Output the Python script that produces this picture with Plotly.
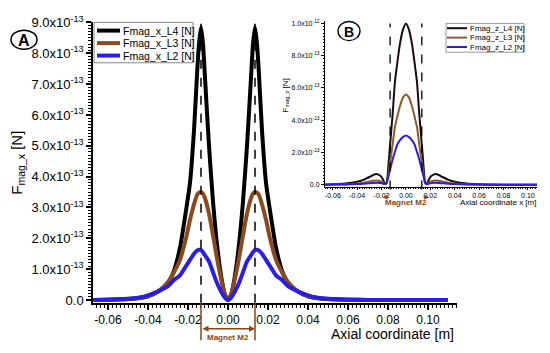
import plotly.graph_objects as go

W, H = 550, 353

# ---------------- data (forces in units of 1e-13 N) ----------------
x_main = [-0.07, -0.06, -0.05, -0.045, -0.04, -0.035, -0.03, -0.027, -0.024, -0.021,
          -0.019, -0.017, -0.0155, -0.0145, -0.0135, -0.0125, -0.0115, -0.0095, -0.0075,
          -0.0055, -0.0035, -0.0015, 0.0,
          0.0015, 0.0035, 0.0055, 0.0075, 0.0095, 0.0115, 0.0125, 0.0135, 0.0145, 0.0155,
          0.017, 0.019, 0.021, 0.024, 0.027, 0.03, 0.035, 0.04, 0.045, 0.05, 0.06, 0.07,
          0.09, 0.11]
fx_L4 = [0.0, 0.01, 0.03, 0.06, 0.12, 0.27, 0.55, 0.95, 1.7, 2.9,
         3.8, 5.5, 7.3, 8.3, 8.85, 8.3, 7.2, 5.0, 3.2,
         1.8, 0.8, 0.15, 0.0,
         0.15, 0.8, 1.8, 3.2, 5.0, 7.2, 8.3, 8.85, 8.3, 7.3,
         5.5, 3.8, 2.9, 1.7, 0.95, 0.55, 0.27, 0.12, 0.06, 0.03, 0.01, 0.0,
         0.0, 0.0]
fx_L3 = [0.0, 0.01, 0.03, 0.06, 0.13, 0.27, 0.58, 0.9, 1.3, 2.0,
         2.6, 3.1, 3.4, 3.48, 3.5, 3.45, 3.3, 2.8, 2.1,
         1.35, 0.7, 0.18, 0.0,
         0.18, 0.7, 1.35, 2.1, 2.8, 3.3, 3.45, 3.5, 3.48, 3.4,
         3.1, 2.6, 2.0, 1.3, 0.9, 0.58, 0.27, 0.13, 0.06, 0.03, 0.01, 0.0,
         0.0, 0.0]
fx_L2 = [0.0, 0.01, 0.04, 0.07, 0.15, 0.28, 0.45, 0.65, 0.8, 1.1,
         1.3, 1.5, 1.6, 1.63, 1.62, 1.55, 1.45, 1.25, 0.9,
         0.55, 0.28, 0.07, 0.0,
         0.07, 0.28, 0.55, 0.9, 1.25, 1.45, 1.55, 1.62, 1.63, 1.6,
         1.5, 1.3, 1.1, 0.8, 0.65, 0.45, 0.28, 0.15, 0.07, 0.04, 0.01, 0.0,
         0.0, 0.0]

x_ins = [-0.07, -0.06, -0.05, -0.04, -0.035, -0.03, -0.027, -0.024, -0.021, -0.019,
         -0.0175, -0.016, -0.0145, -0.013, -0.011, -0.009, -0.007, -0.005, -0.0025, 0.0,
         0.0025, 0.005, 0.007, 0.009, 0.011, 0.013, 0.0145, 0.016, 0.0175, 0.019,
         0.021, 0.024, 0.027, 0.03, 0.035, 0.04, 0.05, 0.06, 0.07, 0.09, 0.11]
fz_L4 = [0.01, 0.03, 0.07, 0.18, 0.3, 0.48, 0.6, 0.67, 0.55, 0.35,
         0.12, 0.1, 1.1, 2.5, 4.3, 6.4, 7.6, 8.7, 9.6, 10.0,
         9.6, 8.7, 7.6, 6.4, 4.3, 2.5, 1.1, 0.1, 0.12, 0.35,
         0.55, 0.67, 0.6, 0.48, 0.3, 0.18, 0.07, 0.03, 0.01, 0.0, 0.0]
fz_L3 = [0.0, 0.01, 0.03, 0.08, 0.13, 0.2, 0.24, 0.26, 0.22, 0.15,
         0.06, 0.06, 0.6, 1.4, 2.45, 3.6, 4.25, 4.85, 5.4, 5.6,
         5.4, 4.85, 4.25, 3.6, 2.45, 1.4, 0.6, 0.06, 0.06, 0.15,
         0.22, 0.26, 0.24, 0.2, 0.13, 0.08, 0.03, 0.01, 0.0, 0.0, 0.0]
fz_L2 = [0.0, 0.01, 0.02, 0.04, 0.06, 0.09, 0.11, 0.12, 0.1, 0.07,
         0.05, 0.1, 0.5, 0.95, 1.55, 2.05, 2.5, 2.75, 2.95, 3.05,
         2.95, 2.75, 2.5, 2.05, 1.55, 0.95, 0.5, 0.1, 0.05, 0.07,
         0.1, 0.12, 0.11, 0.09, 0.06, 0.04, 0.02, 0.01, 0.0, 0.0, 0.0]

names_main = ["Fmag_x_L4 [N]", "Fmag_x_L3 [N]", "Fmag_x_L2 [N]"]
names_ins = ["Fmag_z_L4 [N]", "Fmag_z_L3 [N]", "Fmag_z_L2 [N]"]
colors_main = ["#000000", "#8B4A1E", "#2A1EE0"]
colors_ins = ["#1A0A14", "#8B5A2B", "#2A1EE0"]

magnet_main = [-0.0135, 0.0135]
magnet_ins = [-0.013, 0.013]

y_tickvals_main = [0, 1, 2, 3, 4, 5, 6, 7, 8, 9]
y_ticktext_main = ["0.0"] + ["%d.0x10<sup>-13</sup>" % v for v in range(1, 10)]
y_tickvals_ins = [0, 2, 4, 6, 8, 10]
y_ticktext_ins = ["0.0", "2.0x10<sup>-13</sup>", "4.0x10<sup>-13</sup>",
                  "6.0x10<sup>-13</sup>", "8.0x10<sup>-13</sup>", "1.0x10<sup>-12</sup>"]
x_tickvals = [-0.06, -0.04, -0.02, 0.0, 0.02, 0.04, 0.06, 0.08, 0.10]
x_ticktext = ["-0.06", "-0.04", "-0.02", "0.00", "0.02", "0.04", "0.06", "0.08", "0.10"]


def PX(p):
    return p / W


def PY(p):
    return 1 - p / H


FONT = "Arial, Liberation Sans, sans-serif"
BROWN = "#8B4513"

fig = go.Figure()
for yv, nm, c in zip([fx_L4, fx_L3, fx_L2], names_main, colors_main):
    fig.add_trace(go.Scatter(x=x_main, y=yv, name=nm, mode="lines",
                             line=dict(color=c, width=4, shape="spline", smoothing=0.6),
                             xaxis="x", yaxis="y"))
for yv, nm, c in zip([fz_L4, fz_L3, fz_L2], names_ins, colors_ins):
    fig.add_trace(go.Scatter(x=x_ins, y=yv, name=nm, mode="lines",
                             line=dict(color=c, width=2, shape="spline", smoothing=0.6),
                             xaxis="x2", yaxis="y2"))

axis_common = dict(showgrid=False, zeroline=False, showline=True, linecolor="black",
                   ticks="outside", tickcolor="black")

fig.update_layout(
    width=W, height=H, autosize=False,
    margin=dict(l=0, r=0, t=0, b=0),
    paper_bgcolor="white", plot_bgcolor="white",
    showlegend=False,
    font=dict(family=FONT, color="black"),
    xaxis=dict(domain=[PX(93), PX(457)], range=[-0.0675, 0.1145], anchor="y",
               tickvals=x_tickvals, ticktext=x_ticktext, linewidth=1.5, tickwidth=1.5,
               ticklen=5, tickfont=dict(size=12, color="black"),
               minor=dict(dtick=0.002, tick0=0, ticklen=3, tickcolor="black",
                          ticks="outside", tickwidth=1),
               **axis_common),
    yaxis=dict(domain=[PY(306), PY(14)], range=[-0.093, 9.0], anchor="x",
               tickvals=y_tickvals_main, ticktext=y_ticktext_main, linewidth=1.5,
               tickwidth=1.5, ticklen=5, tickfont=dict(size=13, color="black"),
               minor=dict(dtick=0.1, tick0=0, ticklen=3, tickcolor="black",
                          ticks="outside", tickwidth=1),
               **axis_common),
    xaxis2=dict(domain=[PX(325), PX(537)], range=[-0.0664, 0.1075], anchor="y2",
                tickvals=x_tickvals, ticktext=x_ticktext, linewidth=1, tickwidth=1,
                ticklen=2, tickfont=dict(size=7, color="black"),
                minor=dict(dtick=0.002, tick0=0, ticklen=1.5, tickcolor="black",
                           ticks="outside", tickwidth=0.7),
                **axis_common),
    yaxis2=dict(domain=[PY(185), PY(13)], range=[-0.12, 10.12], anchor="x2",
                tickvals=y_tickvals_ins, ticktext=y_ticktext_ins, linewidth=1,
                tickwidth=1, ticklen=3, tickfont=dict(size=7, color="black"),
                minor=dict(dtick=0.2, tick0=0, ticklen=1.5, tickcolor="black",
                           ticks="outside", tickwidth=0.7),
                **axis_common),
)

shapes = []
ann = []

# dashed magnet boundaries (main)
for xm in magnet_main:
    shapes.append(dict(type="line", xref="x", yref="y domain", x0=xm, x1=xm, y0=0, y1=1,
                       line=dict(color="black", width=1.5, dash="dash")))
    shapes.append(dict(type="line", xref="x", yref="paper", x0=xm, x1=xm,
                       y0=PY(306), y1=PY(345), line=dict(color=BROWN, width=1.5)))
ann.append(dict(x=magnet_main[1], y=PY(333), xref="x", yref="paper", text="",
                showarrow=True, ax=magnet_main[0], ay=0, axref="x", ayref="pixel",
                arrowside="end+start", arrowhead=2, arrowsize=0.8, arrowwidth=1.5,
                arrowcolor=BROWN, standoff=0, startstandoff=0))
ann.append(dict(x=0.0, y=PY(342), xref="x", yref="paper", text="<b>Magnet M2</b>",
                showarrow=False, font=dict(size=8, color=BROWN), xanchor="center",
                yanchor="middle"))

# dashed magnet boundaries (inset)
for xm in magnet_ins:
    shapes.append(dict(type="line", xref="x2", yref="paper", x0=xm, x1=xm,
                       y0=PY(188), y1=PY(15),
                       line=dict(color="black", width=1.3, dash="dash")))
for xm, sgn in zip(magnet_ins, [-1, 1]):
    ann.append(dict(x=xm + sgn * 0.006, y=PY(196), xref="x2", yref="paper", text="",
                    showarrow=True, ax=xm, ay=0, axref="x2", ayref="pixel",
                    arrowhead=2, arrowsize=0.8, arrowwidth=1.2, arrowcolor=BROWN,
                    standoff=0))
ann.append(dict(x=0.0, y=PY(202), xref="x2", yref="paper", text="<b>Magnet M2</b>",
                showarrow=False, font=dict(size=8, color=BROWN), xanchor="center",
                yanchor="middle"))

# axis titles
ann.append(dict(x=PX(456), y=PY(338), xref="paper", yref="paper",
                text="Axial coordinate [m]", showarrow=False, xanchor="right",
                yanchor="middle", font=dict(size=14, color="black")))
ann.append(dict(x=PX(18), y=PY(160), xref="paper", yref="paper",
                text="F<sub>mag_x</sub> [N]", showarrow=False, textangle=-90,
                xanchor="center", yanchor="middle", font=dict(size=15, color="black")))
ann.append(dict(x=PX(538), y=PY(202), xref="paper", yref="paper",
                text="Axial coordinate x [m]", showarrow=False, xanchor="right",
                yanchor="middle", font=dict(size=8, color="black")))
ann.append(dict(x=PX(286), y=PY(90), xref="paper", yref="paper",
                text="F<sub>mag_z</sub> [N]", showarrow=False, textangle=-90,
                xanchor="center", yanchor="middle", font=dict(size=8, color="black")))

# panel labels
shapes.append(dict(type="circle", xref="paper", yref="paper", x0=PX(11), x1=PX(37),
                   y0=PY(42), y1=PY(22), line=dict(color="black", width=1.5),
                   fillcolor="white"))
ann.append(dict(x=PX(24), y=PY(32.5), xref="paper", yref="paper", text="<b>A</b>",
                showarrow=False, xanchor="center", yanchor="middle",
                font=dict(size=16, color="black")))
shapes.append(dict(type="circle", xref="paper", yref="paper", x0=PX(338), x1=PX(360),
                   y0=PY(33), y1=PY(13), line=dict(color="black", width=1.3),
                   fillcolor="white"))
ann.append(dict(x=PX(349), y=PY(23.5), xref="paper", yref="paper", text="<b>B</b>",
                showarrow=False, xanchor="center", yanchor="middle",
                font=dict(size=14, color="black")))

# legends (drawn manually to match compact rows)
shapes.append(dict(type="rect", xref="paper", yref="paper", x0=PX(94), x1=PX(193),
                   y0=PY(56), y1=PY(14), line=dict(color="#888888", width=1),
                   fillcolor="white"))
for i, (nm, c) in enumerate(zip(names_main, colors_main)):
    yy = 22.5 + i * 13
    shapes.append(dict(type="line", xref="paper", yref="paper", x0=PX(97), x1=PX(120),
                       y0=PY(yy), y1=PY(yy), line=dict(color=c, width=4)))
    ann.append(dict(x=PX(121), y=PY(yy), xref="paper", yref="paper", text=nm,
                    showarrow=False, xanchor="left", yanchor="middle",
                    font=dict(size=10.5, color="black")))
shapes.append(dict(type="rect", xref="paper", yref="paper", x0=PX(446), x1=PX(524),
                   y0=PY(45), y1=PY(15), line=dict(color="#999999", width=1),
                   fillcolor="white"))
for i, (nm, c) in enumerate(zip(names_ins, colors_ins)):
    yy = 20 + i * 9.8
    shapes.append(dict(type="line", xref="paper", yref="paper", x0=PX(447), x1=PX(467),
                       y0=PY(yy), y1=PY(yy), line=dict(color=c, width=2)))
    ann.append(dict(x=PX(467.5), y=PY(yy), xref="paper", yref="paper", text=nm,
                    showarrow=False, xanchor="left", yanchor="middle",
                    font=dict(size=8, color="black")))

fig.update_layout(shapes=shapes, annotations=ann)
fig.write_html("out.html", config={"displayModeBar": False},
               post_script="document.body.style.margin='0';"
                           "document.documentElement.style.overflow='hidden';")
